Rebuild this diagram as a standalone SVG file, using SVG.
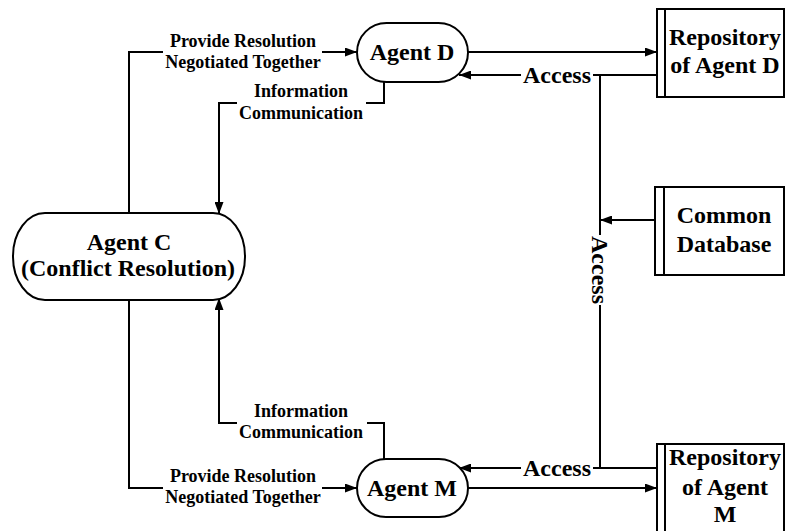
<svg xmlns="http://www.w3.org/2000/svg" width="786" height="531" viewBox="0 0 786 531">
<style>
  .shape { fill: #fff; stroke: #000; stroke-width: 2; }
  .conn { fill: none; stroke: #000; stroke-width: 2; }
  .big { font-family: "Liberation Serif", "Times New Roman", serif; font-weight: bold; font-size: 24px; fill: #000; text-anchor: middle; }
  .small { font-family: "Liberation Serif", "Times New Roman", serif; font-weight: bold; font-size: 18px; fill: #000; text-anchor: middle; }
</style>
<defs>
  <marker id="arr" markerUnits="userSpaceOnUse" markerWidth="13" markerHeight="9" refX="12" refY="4.5" orient="auto">
    <path d="M0,0 L12,4.5 L0,9 z" fill="#000"/>
  </marker>
</defs>
<rect width="786" height="531" fill="#fff"/>

<g id="connectors">
  <path class="conn" d="M129,213 V52 H163"/>
  <path class="conn" d="M322,52 H357" marker-end="url(#arr)"/>
  <path class="conn" d="M384,82 V103 H366"/>
  <path class="conn" d="M237,103 H219 V214" marker-end="url(#arr)"/>
  <path class="conn" d="M468,52 H657" marker-end="url(#arr)"/>
  <path class="conn" d="M657,75 H593"/>
  <path class="conn" d="M521,75 H459" marker-end="url(#arr)"/>
  <path class="conn" d="M600,75 V235"/>
  <path class="conn" d="M600,305 V468"/>
  <path class="conn" d="M655,220 H600" marker-end="url(#arr)"/>
  <path class="conn" d="M657,468 H593"/>
  <path class="conn" d="M521,468 H459" marker-end="url(#arr)"/>
  <path class="conn" d="M468,488 H657" marker-end="url(#arr)"/>
  <path class="conn" d="M384,459 V423 H367"/>
  <path class="conn" d="M237,423 H219 V298" marker-end="url(#arr)"/>
  <path class="conn" d="M129,300 V488 H163"/>
  <path class="conn" d="M322,488 H357" marker-end="url(#arr)"/>
  <text class="small" x="243" y="47">Provide Resolution</text>
  <text class="small" x="243" y="68">Negotiated Together</text>
  <text class="small" x="301" y="97">Information</text>
  <text class="small" x="301" y="119">Communication</text>
  <text class="small" x="301" y="417">Information</text>
  <text class="small" x="301" y="438">Communication</text>
  <text class="small" x="243" y="482">Provide Resolution</text>
  <text class="small" x="243" y="503">Negotiated Together</text>
  <text class="big" x="557" y="83">Access</text>
  <text class="big" x="557" y="476">Access</text>
  <text class="big" transform="translate(592,270) rotate(90)" x="0" y="0">Access</text>
</g>

<g id="agent-c">
  <rect class="shape" x="13" y="213" width="232" height="87" rx="32" ry="43"/>
  <text class="big" x="129" y="250">Agent C</text>
  <text class="big" x="128" y="276">(Conflict Resolution)</text>
</g>

<g id="agent-d">
  <rect class="shape" x="357" y="23" width="111" height="59" rx="29.5" ry="29.5"/>
  <text class="big" x="412" y="60">Agent D</text>
</g>

<g id="agent-m">
  <rect class="shape" x="357" y="459" width="111" height="58" rx="29" ry="29"/>
  <text class="big" x="412" y="496">Agent M</text>
</g>

<g id="repository-d">
  <rect class="shape" x="657" y="9" width="127" height="88"/>
  <line class="conn" x1="665" y1="9" x2="665" y2="97"/>
  <text class="big" x="725" y="45">Repository</text>
  <text class="big" x="725" y="73">of Agent D</text>
</g>

<g id="common-database">
  <rect class="shape" x="655" y="187" width="129" height="88"/>
  <line class="conn" x1="664" y1="187" x2="664" y2="275"/>
  <text class="big" x="724" y="223">Common</text>
  <text class="big" x="724" y="252">Database</text>
</g>

<g id="repository-m">
  <rect class="shape" x="657" y="444" width="127" height="100"/>
  <line class="conn" x1="665" y1="444" x2="665" y2="544"/>
  <text class="big" x="725" y="465">Repository</text>
  <text class="big" x="725" y="495">of Agent</text>
  <text class="big" x="725" y="522">M</text>
</g>
</svg>
